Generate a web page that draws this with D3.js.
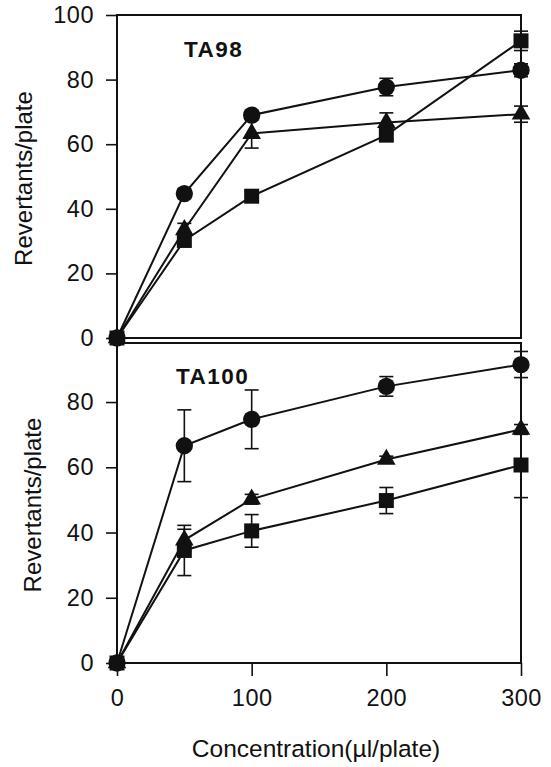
<!DOCTYPE html>
<html>
<head>
<meta charset="utf-8">
<script src="https://cdn.jsdelivr.net/npm/d3@7"></script>
<style>
  body { margin: 0; background: #fff; }
  text { font-family: "Liberation Sans", Arial, sans-serif; fill: #111; }
</style>
</head>
<body>
<svg width="551" height="767"></svg>
<script>
// concentrations (µl/plate)
const conc = [0, 50, 100, 200, 300];

// TA98 means and errors
const ta98Circle = [0, 44.7, 69, 77.7, 82.9];
const ta98CircleErr = [0, 1.5, 1.5, 2.7, 2];
const ta98Triangle = [0, 33.5, 63.3, 66.7, 69.3];
const ta98TriangleErr = [0, 2, 4.5, 3, 2.5];
const ta98Square = [0, 30.2, 43.9, 62.8, 92];
const ta98SquareErr = [0, 1.5, 1.5, 1.5, 3];

// TA100 means and errors
const ta100Circle = [0, 66.6, 74.7, 84.8, 91.5];
const ta100CircleErr = [0, 11, 9, 3, 4];
const ta100Triangle = [0, 37.7, 50.2, 62.4, 71.6];
const ta100TriangleErr = [0, 3.3, 1.5, 1, 1.5];
const ta100Square = [0, 34.5, 40.5, 49.8, 60.7];
const ta100SquareErr = [0, 7.7, 5, 4, 10];

const yTicksTop = [0, 20, 40, 60, 80, 100];
const yTicksBottom = [0, 20, 40, 60, 80];
const xTicks = [0, 100, 200, 300];

const svg = d3.select("svg");
const x = d3.scaleLinear().domain([0, 300]).range([117, 521]);

const panels = [
  {name: "TA98", top: 15, bottom: 338, ymax: 100, ticks: yTicksTop, labelX: 184, labelY: 57, titleX: 32, xAxis: false,
   series: [
     {shape: d3.symbolCircle, size: 235, v: ta98Circle, e: ta98CircleErr},
     {shape: d3.symbolTriangle, size: 150, v: ta98Triangle, e: ta98TriangleErr},
     {shape: d3.symbolSquare, size: 225, v: ta98Square, e: ta98SquareErr}
   ]},
  {name: "TA100", top: 343, bottom: 663, ymax: 98.1, ticks: yTicksBottom, labelX: 176, labelY: 384, titleX: 41, xAxis: true,
   series: [
     {shape: d3.symbolCircle, size: 235, v: ta100Circle, e: ta100CircleErr},
     {shape: d3.symbolTriangle, size: 150, v: ta100Triangle, e: ta100TriangleErr},
     {shape: d3.symbolSquare, size: 225, v: ta100Square, e: ta100SquareErr}
   ]}
];

panels.forEach(function(p) {
  const y = d3.scaleLinear().domain([0, p.ymax]).range([p.bottom, p.top]);
  const g = svg.append("g");

  // frame
  g.append("rect")
    .attr("x", x(0)).attr("y", p.top)
    .attr("width", x(300) - x(0)).attr("height", p.bottom - p.top)
    .attr("fill", "none").attr("stroke", "#111").attr("stroke-width", 2);

  // y axis
  const yAxis = g.append("g")
    .attr("transform", "translate(" + x(0) + ",0)")
    .call(d3.axisLeft(y).tickValues(p.ticks).tickSize(11).tickPadding(12));
  yAxis.select(".domain").remove();
  yAxis.selectAll("line").attr("stroke", "#111").attr("stroke-width", 1.6);
  yAxis.selectAll("text").attr("font-size", 23.5).attr("fill", "#111")
    .attr("letter-spacing", 0.5)
    .style("font-family", "'Liberation Sans', Arial, sans-serif");

  if (p.xAxis) {
    const xAxis = g.append("g")
      .attr("transform", "translate(0," + p.bottom + ")")
      .call(d3.axisBottom(x).tickValues(xTicks).tickSize(13).tickPadding(13));
    xAxis.select(".domain").remove();
    xAxis.selectAll("line").attr("stroke", "#111").attr("stroke-width", 1.6);
    xAxis.selectAll("text").attr("font-size", 23.5).attr("fill", "#111")
      .attr("letter-spacing", 0.5)
      .style("font-family", "'Liberation Sans', Arial, sans-serif");
  }

  // y title
  g.append("text")
    .attr("transform", "translate(" + p.titleX + "," + ((p.top + p.bottom) / 2 + 2) + ") rotate(-90)")
    .attr("text-anchor", "middle")
    .attr("font-size", 24)
    .text("Revertants/plate");

  // panel label
  g.append("text")
    .attr("x", p.labelX).attr("y", p.labelY)
    .attr("font-size", 22.5).attr("font-weight", "bold")
    .attr("letter-spacing", 1.5)
    .text(p.name);

  const line = d3.line()
    .x(function(d, i) { return x(conc[i]); })
    .y(function(d) { return y(d); });

  p.series.forEach(function(s) {
    g.append("path")
      .datum(s.v)
      .attr("d", line)
      .attr("fill", "none").attr("stroke", "#111").attr("stroke-width", 2);
  });

  p.series.forEach(function(s) {
    const eb = g.append("g").attr("stroke", "#111").attr("stroke-width", 1.6);
    s.v.forEach(function(v, i) {
      if (!s.e[i]) return;
      const cx = x(conc[i]);
      eb.append("line").attr("x1", cx).attr("x2", cx).attr("y1", y(v - s.e[i])).attr("y2", y(v + s.e[i]));
      [v - s.e[i], v + s.e[i]].forEach(function(w) {
        eb.append("line").attr("x1", cx - 7).attr("x2", cx + 7).attr("y1", y(w)).attr("y2", y(w));
      });
    });
  });

  p.series.forEach(function(s) {
    g.append("g").selectAll("path")
      .data(s.v)
      .enter().append("path")
        .attr("transform", function(d, i) { return "translate(" + x(conc[i]) + "," + y(d) + ")"; })
        .attr("d", d3.symbol().type(s.shape).size(s.size))
        .attr("fill", "#111");
  });
});

// x title
svg.append("text")
  .attr("x", (x(0) + x(300)) / 2 - 3).attr("y", 757)
  .attr("text-anchor", "middle")
  .attr("font-size", 24.5)
  .text("Concentration(\u00b5l/plate)");
</script>
</body>
</html>
